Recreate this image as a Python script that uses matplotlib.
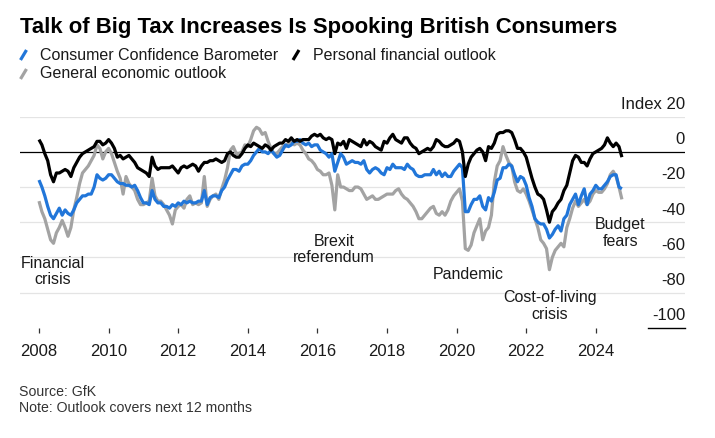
import numpy as np
import matplotlib
matplotlib.use('Agg')
import matplotlib.pyplot as plt
from matplotlib.lines import Line2D

plt.rcParams['font.family'] = ['Liberation Sans', 'DejaVu Sans']

# monthly readings, Jan 2008 .. Oct 2024 (one row per year)
consumer_confidence = [
    -16, -20, -25, -31, -36, -38, -35, -32, -36, -33, -35, -36,
    -33, -29, -27, -25, -25, -24, -24, -20, -13, -15, -16, -15,
    -13, -13, -15, -17, -18, -18, -19, -19, -20, -19, -22, -26,
    -29, -29, -30, -22, -27, -29, -29, -31, -31, -32, -30, -31,
    -29, -30, -28, -29, -28, -29, -29, -28, -28, -22, -30, -26,
    -25, -25, -26, -22, -20, -16, -13, -10, -10, -11, -8, -7,
    -7, -5, -2, 0, 2, 0, 0, -1, 1, -1, -3, -2,
    1, 4, 3, 4, 6, 6, 7, 5, 4, 5, 3, 4,
    4, 1, 0, -1, -3, -1, -11, -6, -1, -3, -7, -6,
    -5, -6, -6, -7, -5, -10, -12, -10, -9, -10, -12, -13,
    -9, -10, -7, -9, -9, -9, -10, -7, -9, -10, -13, -14,
    -14, -13, -13, -13, -10, -13, -11, -14, -12, -14, -14, -11,
    -9, -7, -9, -34, -34, -30, -27, -27, -25, -31, -33, -26,
    -28, -23, -16, -15, -9, -9, -7, -8, -13, -17, -14, -15,
    -19, -26, -31, -38, -40, -41, -41, -44, -49, -47, -44, -42,
    -45, -38, -36, -30, -27, -24, -30, -25, -21, -30, -24, -22,
    -19, -21, -21, -19, -17, -14, -13, -13, -20, -21,
]
personal_outlook = [
    7, 4, -1, -5, -13, -17, -12, -12, -11, -10, -11, -14,
    -9, -6, -3, -1, 0, 1, 2, 3, 6, 6, 4, 5,
    7, 5, 2, -3, -2, -4, -3, -2, -4, -6, -9, -10,
    -11, -12, -14, -3, -8, -10, -9, -9, -9, -9, -8, -10,
    -12, -9, -8, -9, -8, -7, -8, -11, -8, -6, -6, -5,
    -5, -4, -5, -6, -5, -1, 0, -2, -3, -3, -1, 2,
    4, 3, 5, 4, 3, 2, 4, 3, 1, 3, 4, 5,
    5, 7, 6, 8, 6, 7, 6, 7, 7, 7, 9, 10,
    9, 10, 8, 7, 8, 7, -1, 5, 4, 6, 2, 7,
    6, 5, 4, 3, 7, 4, 6, 5, 3, 2, 1, 6,
    5, 8, 10, 7, 6, 5, 8, 8, 5, 3, 2, -1,
    0, 1, 2, 1, 3, 7, 6, 4, 3, 3, 4, 5,
    7, 6, 0, -14, -7, -3, -1, 1, 2, 0, -5, 3,
    2, 5, 10, 11, 11, 12, 12, 11, 7, 2, 2, 0,
    -3, -9, -15, -20, -24, -25, -27, -33, -40, -34, -32, -29,
    -27, -22, -19, -12, -5, -2, -3, -6, -6, -8, -4, -1,
    0, 1, 2, 4, 8, 5, 3, 5, 3, -3,
]
economic_outlook = [
    -28, -34, -38, -44, -50, -52, -46, -43, -39, -43, -48, -43,
    -33, -26, -18, -12, -10, -8, -5, -2, 4, 2, -4, 0,
    2, -1, -6, -11, -15, -24, -14, -18, -20, -22, -27, -30,
    -30, -29, -28, -15, -25, -28, -28, -30, -33, -36, -41, -33,
    -31, -30, -32, -27, -25, -30, -29, -30, -29, -14, -31, -27,
    -25, -24, -27, -21, -16, -9, 1, 3, -1, -1, 0, 4,
    3, 7, 12, 14, 13, 10, 11, 6, 2, -1, -1, 1,
    3, 3, 5, 6, 4, 5, 4, 1, -1, -4, -5, -7,
    -10, -11, -13, -13, -12, -19, -33, -13, -20, -20, -21, -22,
    -22, -20, -20, -21, -24, -27, -26, -25, -27, -27, -26, -25,
    -24, -24, -24, -22, -21, -24, -26, -27, -29, -31, -34, -38,
    -38, -36, -34, -32, -31, -35, -36, -34, -36, -33, -28, -25,
    -23, -21, -28, -55, -56, -53, -46, -42, -38, -50, -45, -43,
    -36, -17, -8, -5, 3, -2, -6, -8, -17, -22, -23, -21,
    -24, -28, -33, -38, -43, -50, -52, -55, -67, -60, -56, -54,
    -52, -54, -43, -38, -32, -28, -31, -29, -27, -30, -28, -24,
    -22, -23, -23, -21, -18, -13, -11, -14, -20, -27,
]

start_year = 2008
year_ticks = [2008, 2010, 2012, 2014, 2016, 2018, 2020, 2022, 2024]
y_levels = [20, 0, -20, -40, -60, -80, -100]
events = [
    ('Financial\ncrisis', 2008.4, -68),
    ('Brexit\nreferendum', 2016.48, -55.5),
    ('Pandemic', 2020.33, -69.5),
    ('Cost-of-living\ncrisis', 2022.68, -87.5),
    ('Budget\nfears', 2024.7, -46),
]

BLUE = '#2176d9'
GRAY = '#a3a3a3'
TXT = '#1a1a1a'

months = np.arange(len(consumer_confidence))
x = start_year + months / 12.0

fig = plt.figure(figsize=(7.15, 4.38), dpi=100)
ax = fig.add_axes([20 / 715, 0.2518, 665 / 715, 0.4817])
ax.set_xlim(2007.454, 2026.563)
ax.set_ylim(-100, 20)

for v in y_levels:
    if v == 0:
        ax.axhline(0, color='black', lw=0.9, zorder=2)
    elif v != -100:
        ax.axhline(v, color='#e4e4e4', lw=0.9, zorder=1)
    lab = 'Index 20' if v == 20 else str(v)
    ax.text(1.0, v + 4.3, lab, transform=ax.get_yaxis_transform(),
            ha='right', va='baseline', fontsize=12, color=TXT)
# short rule under the bottom label
ax.plot([0.944, 1.0], [-100, -100], color='black', lw=1.0,
        transform=ax.get_yaxis_transform(), clip_on=False)

kw = dict(lw=2.3, solid_joinstyle='round', solid_capstyle='butt', zorder=3)
ax.plot(x, economic_outlook, color=GRAY, **kw)
ax.plot(x, consumer_confidence, color=BLUE, **kw)
ax.plot(x, personal_outlook, color='black', **kw)

for txt, ex, ey in events:
    ax.text(ex, ey, txt, ha='center', va='center', fontsize=11.5,
            color=TXT, linespacing=1.15)

for s in ax.spines.values():
    s.set_visible(False)
ax.set_yticks([])
ax.set_xticks(year_ticks)
ax.set_xticklabels([str(y) for y in year_ticks])
ax.tick_params(axis='x', length=3.5, width=0.9, color='#333333',
               labelsize=12, labelcolor=TXT, pad=8)

# title and legend
fig.text(20 / 715, 1 - 27 / 438, 'Talk of Big Tax Increases Is Spooking British Consumers',
         fontsize=15.9, fontweight='bold', ha='left', va='center', color='black')

def legend_item(x0, yc, color, label):
    fig.add_artist(Line2D([(x0) / 715, (x0 + 6) / 715],
                          [1 - (yc + 5) / 438, 1 - (yc - 5) / 438],
                          color=color, lw=2.3, solid_capstyle='butt'))
    fig.text((x0 + 20) / 715, 1 - yc / 438, label, fontsize=11.5,
             ha='left', va='center', color=TXT)

legend_item(20.5, 55, BLUE, 'Consumer Confidence Barometer')
legend_item(293, 55, 'black', 'Personal financial outlook')
legend_item(20.5, 74, GRAY, 'General economic outlook')

fig.text(19 / 715, 1 - 391.5 / 438, 'Source: GfK', fontsize=10.2,
         ha='left', va='center', color='#333333')
fig.text(19 / 715, 1 - 408 / 438, 'Note: Outlook covers next 12 months', fontsize=10.2,
         ha='left', va='center', color='#333333')

fig.savefig('out.png', dpi=100, facecolor='white')
